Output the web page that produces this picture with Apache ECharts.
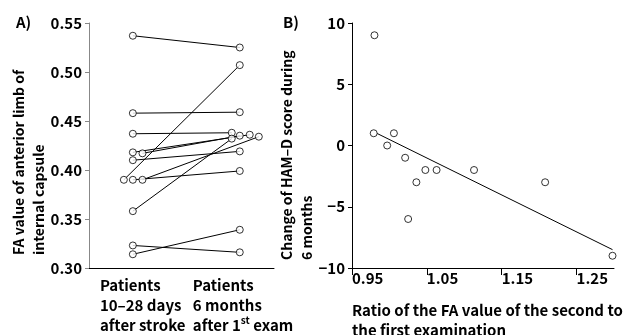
<!DOCTYPE html>
<html>
<head>
<meta charset="utf-8">
<script src="https://cdn.jsdelivr.net/npm/echarts@6/dist/echarts.min.js"></script>
<style>
html, body { margin: 0; padding: 0; background: #fff; }
#main { width: 638px; height: 335px; }
</style>
</head>
<body>
<div id="main"></div>
<script>
// A) FA value, first exam -> second exam (one pair per patient, x slightly jittered)
var firstX   = [1, 1, 1, 1, 1.09, 1, 0.916, 1, 1.09, 1, 1, 1];
var firstFA  = [0.537, 0.458, 0.437, 0.418, 0.417, 0.410, 0.390, 0.390, 0.390, 0.358, 0.323, 0.314];
var secondX  = [2, 2, 1.925, 2.093, 2, 2, 2, 2, 2.178, 1.925, 2, 2];
var secondFA = [0.525, 0.459, 0.438, 0.436, 0.435, 0.419, 0.507, 0.399, 0.434, 0.432, 0.316, 0.339];
var groupLabels = ['Patients\n10–28 days\nafter stroke', 'Patients\n6 months\nafter 1{sup|st} exam'];

// B) ratio of FA values vs change of HAM-D score
var ratio      = [0.980, 0.979, 1.006, 0.997, 1.021, 1.048, 1.063, 1.113, 1.036, 1.208, 1.025, 1.298];
var hamdChange = [9, 1, 1, 0, -1, -2, -2, -2, -3, -3, -6, -9];
var fitRatio = [0.983, 1.298];
var fitHamd  = [1.0, -8.5];
var ratioTicks = [0.95, 1.05, 1.15, 1.25];

var FONT = '"Noto Sans CJK JP", "Noto Sans", sans-serif';

var series = [];
for (var i = 0; i < firstFA.length; i++) {
	series.push({
		type: 'line',
		xAxisIndex: 0,
		yAxisIndex: 0,
		symbol: 'none',
		lineStyle: { color: '#000', width: 1 },
		data: [[firstX[i], firstFA[i]], [secondX[i], secondFA[i]]],
		z: 2
	});
}
var pts = [];
for (var i = 0; i < firstFA.length; i++) {
	pts.push([firstX[i], firstFA[i]]);
	pts.push([secondX[i], secondFA[i]]);
}
series.push({
	type: 'scatter',
	xAxisIndex: 0,
	yAxisIndex: 0,
	symbol: 'circle',
	symbolSize: 7,
	itemStyle: { color: '#fff', borderColor: '#000', borderWidth: 1 },
	data: pts,
	z: 5
});

var fitData = [];
for (var i = 0; i < fitRatio.length; i++) fitData.push([fitRatio[i], fitHamd[i]]);
series.push({
	type: 'line',
	xAxisIndex: 1,
	yAxisIndex: 1,
	symbol: 'none',
	lineStyle: { color: '#000', width: 1 },
	data: fitData
});
var scatterB = [];
for (var i = 0; i < ratio.length; i++) scatterB.push([ratio[i], hamdChange[i]]);
series.push({
	type: 'scatter',
	xAxisIndex: 1,
	yAxisIndex: 1,
	symbol: 'circle',
	symbolSize: 7,
	clip: false,
	itemStyle: { color: '#fff', borderColor: '#000', borderWidth: 1 },
	data: scatterB,
	z: 5
});

var tickLabel = { color: '#000', fontFamily: FONT, fontSize: 15, fontWeight: 'bold' };

var option = {
	animation: false,
	grid: [
		{ left: 89, right: 364, top: 23, bottom: 64 },
		{ left: 352, right: 24, top: 23, bottom: 67 }
	],
	xAxis: [
		{
			gridIndex: 0,
			type: 'value',
			min: 0.59,
			max: 2.32,
			splitLine: { show: false },
			axisLine: { lineStyle: { color: '#000', width: 1 } },
			axisTick: { show: false },
			axisLabel: {
				customValues: [0.692, 1.561],
				align: 'left',
				margin: 7,
				lineHeight: 20,
				color: '#000',
				fontFamily: FONT,
				fontSize: 15,
				fontWeight: 'bold',
				formatter: function (v) { return v < 1.2 ? groupLabels[0] : groupLabels[1]; },
				rich: {
					sup: { fontFamily: FONT, fontSize: 10, fontWeight: 'bold', color: '#000', verticalAlign: 'top', lineHeight: 20 }
				}
			}
		},
		{
			gridIndex: 1,
			type: 'value',
			min: 0.95,
			max: 1.30,
			splitLine: { show: false },
			axisLine: { onZero: false, lineStyle: { color: '#000', width: 1 } },
			axisTick: { customValues: ratioTicks, length: 7, lineStyle: { color: '#000' } },
			axisLabel: Object.assign({ customValues: ratioTicks, align: 'left', margin: 3,
				formatter: function (v) { return v.toFixed(2); } }, tickLabel)
		}
	],
	yAxis: [
		{
			gridIndex: 0,
			type: 'value',
			min: 0.30,
			max: 0.55,
			interval: 0.05,
			splitLine: { show: false },
			axisLine: { show: true, lineStyle: { color: '#888', width: 1 } },
			axisTick: { show: true, length: 4, lineStyle: { color: '#888' } },
			axisLabel: Object.assign({ margin: 7, formatter: function (v) { return v.toFixed(2); } }, tickLabel)
		},
		{
			gridIndex: 1,
			type: 'value',
			min: -10,
			max: 10,
			interval: 5,
			splitLine: { show: false },
			axisLine: { show: true, onZero: false, lineStyle: { color: '#000', width: 1 } },
			axisTick: { show: true, length: 4, lineStyle: { color: '#000' } },
			axisLabel: Object.assign({ margin: 7, formatter: function (v) { return String(v).replace('-', '\u2212'); } }, tickLabel)
		}
	],
	graphic: [
		{ type: 'text', x: 16, y: 22, style: { text: 'A)', fill: '#000', font: 'bold 15px ' + FONT, verticalAlign: 'middle' } },
		{ type: 'text', x: 283, y: 22, style: { text: 'B)', fill: '#000', font: 'bold 15px ' + FONT, verticalAlign: 'middle' } },
		{ type: 'text', x: 9, y: 255, rotation: Math.PI / 2,
			style: { text: 'FA value of anterior limb of\ninternal capsule', fill: '#000', font: 'bold 14px ' + FONT,
				align: 'left', verticalAlign: 'top', lineHeight: 20 } },
		{ type: 'text', x: 277, y: 260, rotation: Math.PI / 2,
			style: { text: 'Change of HAM–D score during\n6 months', fill: '#000', font: 'bold 14px ' + FONT,
				align: 'left', verticalAlign: 'top', lineHeight: 20 } },
		{ type: 'text', x: 352, y: 301,
			style: { text: 'Ratio of the FA value of the second to\nthe first examination', fill: '#000', font: 'bold 15px ' + FONT,
				align: 'left', verticalAlign: 'top', lineHeight: 19.5 } }
	],
	series: series
};

var chart = echarts.init(document.getElementById('main'));
chart.setOption(option);
</script>
</body>
</html>
